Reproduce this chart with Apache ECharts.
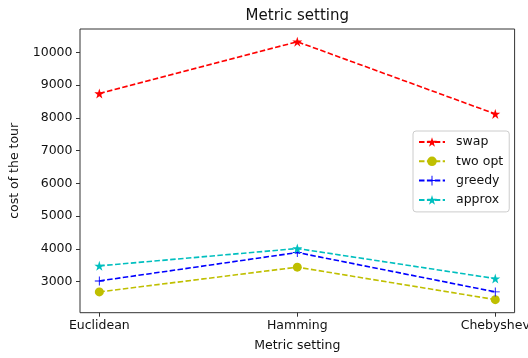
<!DOCTYPE html>
<html>
<head>
<meta charset="utf-8">
<script src="https://cdn.jsdelivr.net/npm/echarts@6/dist/echarts.min.js"></script>
<style>html,body{margin:0;padding:0;background:#fff}#c{width:528px;height:358px}</style>
</head>
<body>
<div id="c"></div>
<script>
const categories = ['Euclidean', 'Hamming', 'Chebyshev'];
const swap = [8744, 10325, 8120];
const twoOpt = [2685, 3441, 2449];
const greedy = [3020, 3888, 2685];
const approx = [3481, 4010, 3092];
const yTicks = [3000, 4000, 5000, 6000, 7000, 8000, 9000, 10000];
const xTicks = [0, 1, 2];

const STAR = 'path://M50,0 L61.2,34.5 L97.6,34.5 L68.2,55.9 L79.4,90.5 L50,69.1 L20.6,90.5 L31.8,55.9 L2.4,34.5 L38.8,34.5 Z';
const PLUS = 'path://M45,0 H55 V45 H100 V55 H55 V100 H45 V55 H0 V45 H45 Z';
const FONT = 'DejaVu Sans';

function mk(name, vals, color, symbol, size) {
  return {
    name: name, type: 'line',
    data: vals.map((v, i) => [xTicks[i], v]),
    symbol: symbol, symbolSize: size,
    lineStyle: { color: color, width: 1.6, type: [5.5, 2.4] },
    itemStyle: { color: color },
    animation: false
  };
}

const chart = echarts.init(document.getElementById('c'), null, { renderer: 'canvas' });
chart.setOption({
  animation: false,
  title: {
    text: 'Metric setting', left: 297.3, top: 9, padding: 0, textAlign: 'center',
    textStyle: { fontFamily: FONT, fontSize: 15, fontWeight: 'normal', color: '#111' }
  },
  grid: { left: 80, right: 13.4, top: 29, bottom: 45.3, show: true, borderColor: '#333', borderWidth: 1, containLabel: false, outerBoundsMode: 'none' },
  xAxis: {
    type: 'value', min: -0.0976, max: 2.0976,
    name: 'Metric setting', nameLocation: 'middle', nameGap: 27,
    nameTextStyle: { fontFamily: FONT, fontSize: 12.5, color: '#111' },
    axisLine: { show: false, onZero: false },
    axisTick: { show: true, length: 4, customValues: xTicks, lineStyle: { color: '#333' } },
    axisLabel: { customValues: xTicks, formatter: v => categories[Math.round(v)], margin: 7, fontFamily: FONT, fontSize: 12.5, color: '#111' },
    splitLine: { show: false }
  },
  yAxis: {
    type: 'value', min: 2050, max: 10714,
    name: 'cost of the tour', nameLocation: 'middle', nameGap: 58.5,
    nameTextStyle: { fontFamily: FONT, fontSize: 12.5, color: '#111' },
    axisLine: { show: false, onZero: false },
    axisTick: { show: true, length: 4, customValues: yTicks, lineStyle: { color: '#333' } },
    axisLabel: { customValues: yTicks, formatter: v => String(v), margin: 7.5, fontFamily: FONT, fontSize: 12.5, color: '#111' },
    splitLine: { show: false }
  },
  legend: {
    orient: 'vertical', left: 413, top: 131,
    padding: [4, 6, 5, 5],
    backgroundColor: '#fff', borderColor: '#ccc', borderWidth: 1, borderRadius: 3,
    itemWidth: 26, itemHeight: 12, itemGap: 5.3,
    textStyle: { fontFamily: FONT, fontSize: 12.5, color: '#111', lineHeight: 14, padding: [0, 0, 0, 6] },
    data: ['swap', 'two opt', 'greedy', 'approx']
  },
  series: [
    mk('swap', swap, '#ff0000', STAR, 10),
    mk('two opt', twoOpt, '#bfbf00', 'circle', 9),
    mk('greedy', greedy, '#0000ff', PLUS, 9),
    mk('approx', approx, '#00bfbf', STAR, 10)
  ]
});
</script>
</body>
</html>
